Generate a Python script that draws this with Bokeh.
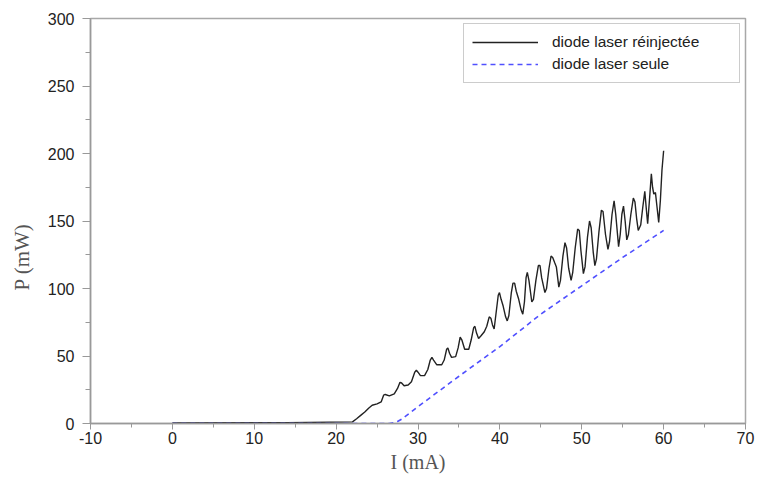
from bokeh.plotting import figure
from bokeh.models import Range1d, SingleIntervalTicker, Title, Legend, LegendItem
from bokeh.embed import file_html
from bokeh.resources import INLINE

# Data
current_reinj = [0, 14, 22.0, 22.5, 23.0, 23.5, 24.0, 24.4, 25.0, 25.5, 25.8, 26.0, 26.5, 27.1,
                 27.5, 27.8, 28.0, 28.3, 28.8, 29.2, 29.6, 29.8, 30.0, 30.3, 30.8, 31.2, 31.5,
                 31.7, 31.9, 32.3, 32.9, 33.2, 33.5, 33.65, 33.85, 34.1, 34.6, 34.9, 35.15,
                 35.35, 35.7, 36.2, 36.5, 36.8, 36.95, 37.15, 37.4, 37.7, 38.1, 38.4, 38.7,
                 38.9, 39.1, 39.3, 39.6, 39.8, 39.95, 40.15, 40.4, 40.7, 40.9, 41.1, 41.4,
                 41.6, 41.8, 42.0, 42.3, 42.6, 42.8, 43.0, 43.2, 43.35, 43.55, 43.9, 44.1,
                 44.4, 44.7, 44.9, 45.1, 45.5, 45.7, 46.0, 46.25, 46.45, 46.7, 46.9, 47.2,
                 47.4, 47.7, 47.95, 48.15, 48.4, 48.7, 48.9, 49.2, 49.5, 49.7, 49.9, 50.2,
                 50.4, 50.7, 50.95, 51.15, 51.4, 51.6, 51.8, 52.1, 52.4, 52.6, 52.9, 53.2,
                 53.4, 53.7, 53.95, 54.15, 54.5, 54.7, 54.9, 55.1, 55.3, 55.5, 55.7, 56.0,
                 56.3, 56.5, 56.7, 56.9, 57.2, 57.45, 57.7, 57.9, 58.05, 58.3, 58.5, 58.65,
                 58.8, 59.0, 59.2, 59.4, 59.6, 59.8, 60.0]
power_reinj = [0.4, 0.6, 1.2, 3.5, 6, 8.5, 11.5, 13.5, 14.5, 16, 21, 21.5, 20.5, 22,
               26, 30.5, 30, 28, 28.5, 31, 38, 39.5, 38, 35.5, 35.5, 40, 47,
               49, 47, 43.5, 43.5, 47, 55, 56, 52, 49, 49.5, 56, 64,
               62, 55, 55, 62, 71, 72, 67, 63, 65, 68, 72, 79,
               78, 73, 70, 85, 95, 97, 92, 87, 79, 76, 80, 97,
               104, 104, 98, 92, 84, 81, 90, 108, 112, 106, 90, 92,
               106, 117, 117, 108, 97, 100, 115, 124, 123, 119, 116, 101,
               106, 124, 134, 130, 115, 106, 112, 130, 144, 143, 128, 111,
               116, 138, 150, 145, 127, 117, 122, 142, 158, 157, 140, 129,
               135, 155, 165, 155, 131, 140, 155, 161, 150, 136, 140, 155,
               167, 164, 152, 143, 147, 160, 172, 158, 148, 168, 185, 175,
               170, 171, 160, 149, 165, 188, 202]

current_seule = [0, 26.5, 27, 27.5, 28, 29, 30, 31, 32, 35, 40, 45, 50, 55, 60]
power_seule = [0, 0, 0.5, 1.5, 3.2, 7.8, 12.5, 17, 21.5, 35, 57, 81, 102, 123, 143]

x_ticks_interval = 10
y_ticks_interval = 50

p = figure(width=756, height=476, output_backend="svg", toolbar_location=None,
           x_range=Range1d(-10, 70), y_range=Range1d(0, 300),
           min_border_left=89, min_border_right=11, min_border_top=18, min_border_bottom=53)

p.xgrid.visible = False
p.ygrid.visible = False
p.outline_line_color = "#a8a8a8"
p.outline_line_width = 1.5
p.background_fill_color = "white"
p.border_fill_color = "white"

p.xaxis.ticker = SingleIntervalTicker(interval=x_ticks_interval, num_minor_ticks=2)
p.yaxis.ticker = SingleIntervalTicker(interval=y_ticks_interval, num_minor_ticks=2)
p.xaxis.major_label_overrides = {-10: "-10"}

for ax in (p.xaxis[0], p.yaxis[0]):
    ax.axis_line_color = "#999999"
    ax.axis_line_width = 1.5
    ax.major_tick_line_color = "#999999"
    ax.minor_tick_line_color = "#999999"
    ax.major_tick_in = 0
    ax.minor_tick_in = 0
    ax.major_label_text_font = "Liberation Sans"
    ax.major_label_text_font_size = "16px"
    ax.major_label_text_color = "#222222"

p.xaxis.major_tick_out = 6
p.xaxis.minor_tick_out = 4
p.xaxis.major_label_standoff = 2
p.yaxis.major_tick_out = 8
p.yaxis.minor_tick_out = 5
p.yaxis.major_label_standoff = 8

p.xaxis.axis_label = "I (mA)"
p.xaxis.axis_label_text_font = "Liberation Serif"
p.xaxis.axis_label_text_font_style = "normal"
p.xaxis.axis_label_text_font_size = "20px"
p.xaxis.axis_label_text_color = "#555555"
p.xaxis.axis_label_standoff = 4

r1 = p.line(current_reinj, power_reinj, line_color="#222222", line_width=1.4)
r2 = p.line(current_seule, power_seule, line_color="#5050ff", line_width=1.6, line_dash="5 4")

ytitle = Title(text="P (mW)", align="left", offset=133, vertical_align="top", standoff=18,
               text_font="Liberation Serif", text_font_size="21px", text_font_style="normal",
               text_color="#555555")
p.add_layout(ytitle, "left")

legend = Legend(items=[LegendItem(label="diode laser réinjectée", renderers=[r1]),
                       LegendItem(label="diode laser seule", renderers=[r2])],
                location="top_right")
legend.margin = 5
legend.padding = 8
legend.spacing = 2
legend.glyph_width = 66
legend.glyph_height = 20
legend.label_height = 20
legend.label_width = 179
legend.label_standoff = 14
legend.label_text_font = "Liberation Sans"
legend.label_text_font_size = "15.5px"
legend.label_text_color = "#222222"
legend.border_line_color = "#999999"
legend.border_line_width = 1
legend.background_fill_color = "white"
legend.background_fill_alpha = 1.0
p.add_layout(legend)

open("out.html", "w").write(file_html(p, INLINE))
